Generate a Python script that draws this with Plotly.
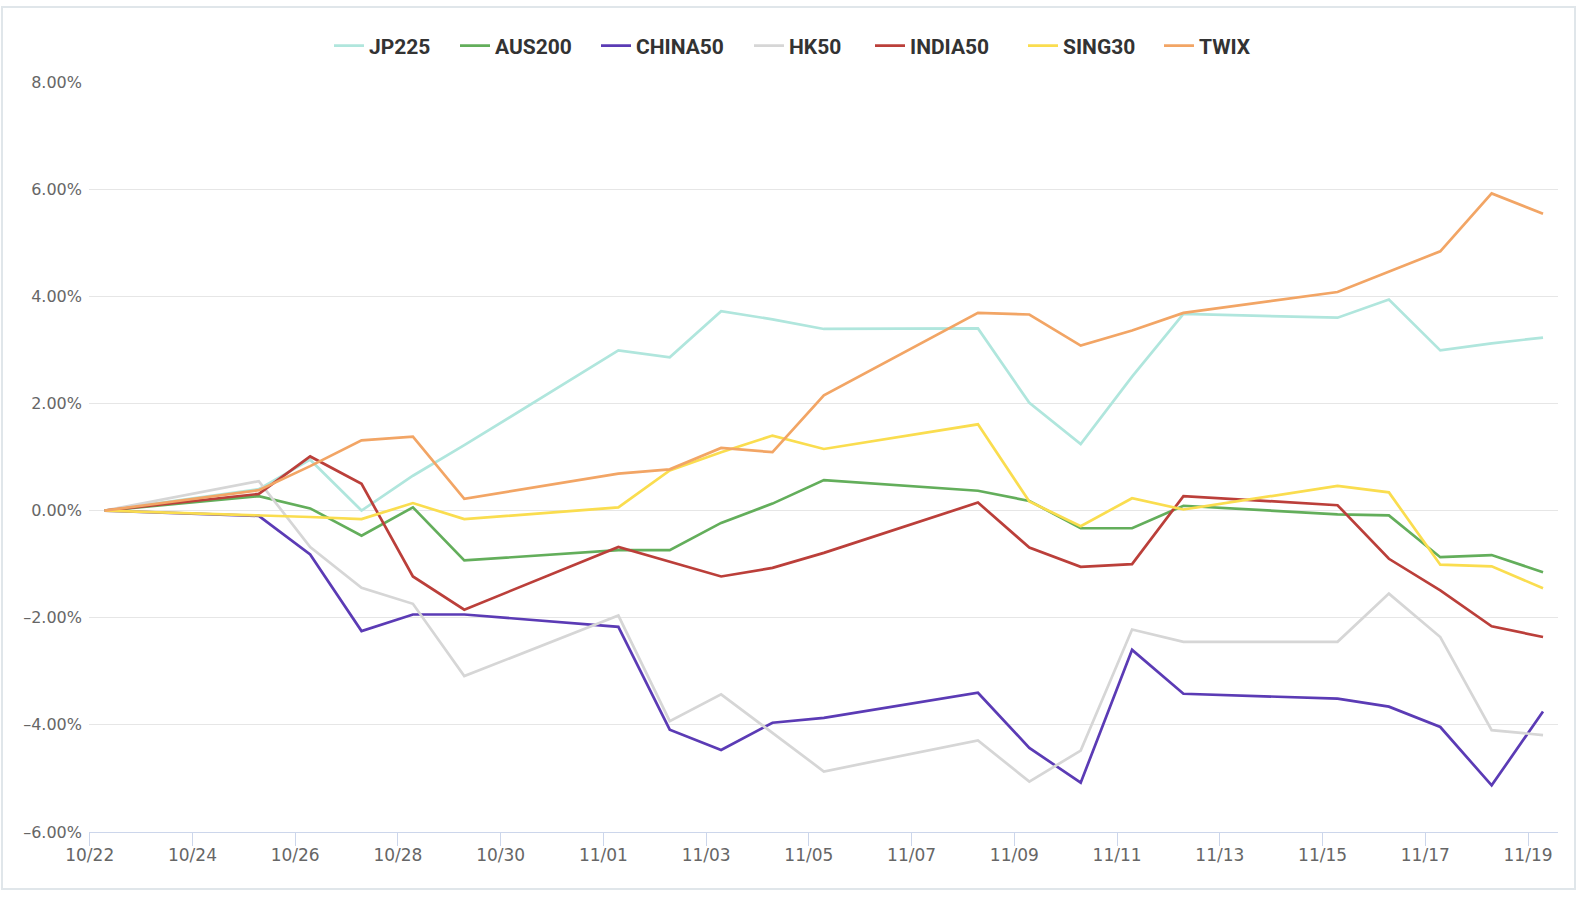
import plotly.graph_objects as go

dates = ["2021-10-22", "2021-10-25", "2021-10-26", "2021-10-27", "2021-10-28", "2021-10-29",
         "2021-11-01", "2021-11-02", "2021-11-03", "2021-11-04", "2021-11-05",
         "2021-11-08", "2021-11-09", "2021-11-10", "2021-11-11", "2021-11-12",
         "2021-11-15", "2021-11-16", "2021-11-17", "2021-11-18", "2021-11-19"]

jp225 = [0, 0.40, 0.95, 0.00, 0.65, 1.22, 2.99, 2.86, 3.72, 3.57, 3.39,
         3.40, 2.01, 1.24, 2.50, 3.67, 3.60, 3.94, 2.99, 3.12, 3.23]
aus200 = [0, 0.27, 0.04, -0.47, 0.06, -0.93, -0.74, -0.74, -0.23, 0.13, 0.57,
          0.37, 0.18, -0.33, -0.33, 0.09, -0.07, -0.09, -0.87, -0.83, -1.15]
china50 = [0, -0.10, -0.82, -2.25, -1.94, -1.94, -2.17, -4.09, -4.47, -3.96, -3.87,
           -3.40, -4.43, -5.08, -2.60, -3.42, -3.51, -3.66, -4.04, -5.13, -3.75]
hk50 = [0, 0.55, -0.68, -1.44, -1.74, -3.09, -1.96, -3.93, -3.43, -4.15, -4.87,
        -4.29, -5.06, -4.48, -2.22, -2.45, -2.45, -1.55, -2.36, -4.10, -4.19]
india50 = [0, 0.31, 1.01, 0.50, -1.23, -1.85, -0.68, -0.96, -1.23, -1.07, -0.79,
           0.15, -0.69, -1.05, -1.00, 0.27, 0.10, -0.90, -1.49, -2.16, -2.36]
sing30 = [0, -0.08, -0.12, -0.16, 0.14, -0.16, 0.06, 0.75, 1.09, 1.40, 1.15,
          1.61, 0.17, -0.29, 0.23, 0.02, 0.46, 0.34, -1.01, -1.04, -1.45]
twix = [0, 0.38, 0.83, 1.31, 1.38, 0.22, 0.69, 0.77, 1.17, 1.09, 2.15,
        3.69, 3.66, 3.08, 3.36, 3.69, 4.08, 4.46, 4.84, 5.92, 5.54]

series_names = ["JP225", "AUS200", "CHINA50", "HK50", "INDIA50", "SING30", "TWIX"]
series_values = [jp225, aus200, china50, hk50, india50, sing30, twix]
series_colors = ["#b0e6dd", "#63ae5b", "#5b3bb5", "#d6d6d6", "#bb3f3a", "#fadd4f", "#f2a565"]

y_tickvals = [-6, -4, -2, 0, 2, 4, 6, 8]
y_ticktext = ["\u20136.00%", "\u20134.00%", "\u20132.00%", "0.00%", "2.00%", "4.00%", "6.00%", "8.00%"]

# timestamps carry a 07:00 offset as in the source chart
times = [d + " 07:00" for d in dates]

W, H = 1584, 902
ml, mr, mt, mb = 89, 26, 82, 70
pw, ph = W - ml - mr, H - mt - mb

def px_x(x):
    return (x - ml) / pw

def px_y(y):
    return (H - mb - y) / ph

# left pixel of each legend entry (one legend box per series, laid out in a row)
legend_left_px = [329, 455, 596, 749, 870, 1023, 1159]
legend_font = dict(family="Roboto, sans-serif", size=21, color="#333333", weight="bold")

fig = go.Figure()
layout_legends = {}
for i, (name, vals, col) in enumerate(zip(series_names, series_values, series_colors)):
    key = "legend" if i == 0 else "legend%d" % (i + 1)
    fig.add_trace(go.Scatter(
        x=times, y=vals, name=name, mode="lines",
        line=dict(color=col, width=2.7),
        legend=key,
        hovertemplate="%{y:.2f}%<extra>" + name + "</extra>",
    ))
    layout_legends[key] = dict(
        orientation="h", x=px_x(legend_left_px[i]), xanchor="left",
        y=px_y(46), yanchor="middle", font=legend_font,
        itemwidth=30, bgcolor="rgba(0,0,0,0)", borderwidth=0,
    )

fig.update_layout(
    width=W, height=H,
    margin=dict(l=ml, r=mr, t=mt, b=mb, autoexpand=False),
    paper_bgcolor="white", plot_bgcolor="white",
    font=dict(family="DejaVu Sans, Verdana, sans-serif", size=16, color="#666666"),
    showlegend=True,
    xaxis=dict(
        type="date",
        range=["2021-10-21 23:40", "2021-11-19 14:00"],
        tick0="2021-10-22", dtick=2 * 86400000, tickformat="%m/%d",
        showgrid=False, zeroline=False,
        showline=True, linecolor="#ccd6eb", linewidth=1,
        ticks="outside", ticklen=13, tickcolor="#ccd6eb", tickwidth=1,
        ticklabelstandoff=-5,
        tickfont=dict(size=17, color="#666666"),
        fixedrange=True,
    ),
    yaxis=dict(
        range=[-6, 8], tickvals=y_tickvals, ticktext=y_ticktext,
        showgrid=True, gridcolor="#e6e6e6", gridwidth=1,
        zeroline=False, showline=False, ticks="",
        ticklabelstandoff=6,
        tickfont=dict(size=16, color="#666666"),
        fixedrange=True,
    ),
    shapes=[dict(
        type="rect", xref="paper", yref="paper",
        x0=px_x(2), x1=px_x(1575), y0=px_y(889), y1=px_y(7),
        line=dict(color="#e0e6ea", width=2), fillcolor="rgba(0,0,0,0)", layer="below",
    )],
    **layout_legends,
)

fig.write_html("out.html")
